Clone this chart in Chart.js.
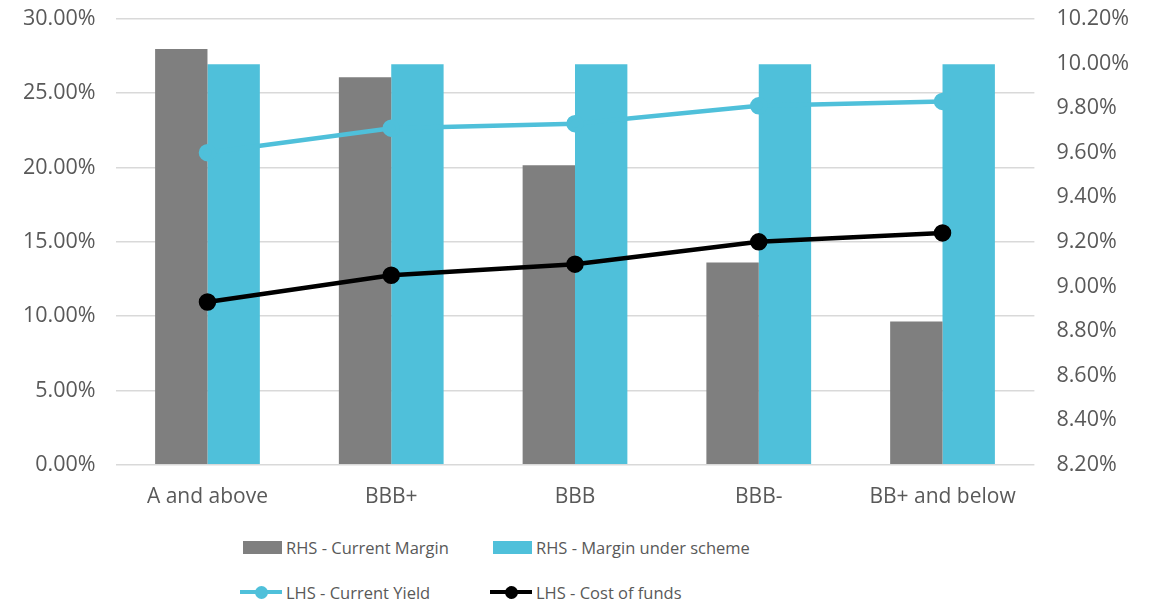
<!DOCTYPE html>
<html>
<head>
<meta charset="utf-8">
<script src="https://cdn.jsdelivr.net/npm/chart.js@4.4.1/dist/chart.umd.min.js"></script>
<style>
  body { margin: 0; background: #fff; font-family: "Open Sans", sans-serif; overflow: hidden; }
  #wrap { position: relative; width: 1151px; height: 601px; overflow: hidden; }
  #box { position: absolute; left: 0; top: -16px; width: 1151px; height: 538px; }
  #legend { position: absolute; left: 240px; top: 534px; display: grid;
    grid-template-columns: 250px 300px; row-gap: 19px; }
  .item { display: flex; align-items: center; height: 26px; color: #595959; font-size: 16.5px; white-space: nowrap; }
  .sw { width: 39px; height: 13px; margin: 0 4px 0 3px; }
  .ln { position: relative; width: 42px; height: 13px; margin-right: 4px; }
  .ln i { position: absolute; left: 0; right: 0; top: 4.5px; height: 4px; }
  .ln b { position: absolute; left: 15px; top: 0; width: 13px; height: 13px; border-radius: 50%; }
</style>
</head>
<body>
<div id="wrap">
  <div id="box"><canvas id="chart"></canvas></div>
  <div id="legend"></div>
</div>
<script>
const categories = ['A and above', 'BBB+', 'BBB', 'BBB-', 'BB+ and below']
const currentMargin = [27.97, 26.08, 20.15, 13.61, 9.64]
const marginUnderScheme = [26.95, 26.95, 26.95, 26.95, 26.95]
const currentYield = [9.60, 9.71, 9.73, 9.81, 9.83]
const costOfFunds = [8.93, 9.05, 9.10, 9.20, 9.24]

const grey = '#7f7f7f'
const cyan = '#4fc0da'
const textColor = '#595959'

const chart = new Chart(document.getElementById('chart').getContext('2d'), {
  data: {
    labels: categories,
    datasets: [
      { type: 'line', label: 'LHS - Current Yield', data: currentYield, yAxisID: 'y2',
        borderColor: cyan, backgroundColor: cyan, borderWidth: 4.5, pointRadius: 6.5,
        pointHoverRadius: 6.5, order: 0 },
      { type: 'line', label: 'LHS - Cost of funds', data: costOfFunds, yAxisID: 'y2',
        borderColor: '#000', backgroundColor: '#000', borderWidth: 4.5, pointRadius: 6.5,
        pointHoverRadius: 6.5, order: 0 },
      { type: 'bar', label: 'RHS - Current Margin', data: currentMargin, yAxisID: 'y',
        backgroundColor: grey, categoryPercentage: 0.57, barPercentage: 1, order: 1 },
      { type: 'bar', label: 'RHS - Margin under scheme', data: marginUnderScheme, yAxisID: 'y',
        backgroundColor: cyan, categoryPercentage: 0.57, barPercentage: 1, order: 1 }
    ]
  },
  options: {
    responsive: true,
    maintainAspectRatio: false,
    animation: false,
    layout: { padding: { top: 0, left: 3, right: 0, bottom: 0 } },
    plugins: { legend: { display: false }, tooltip: { enabled: false } },
    scales: {
      x: {
        grid: { display: false },
        border: { display: false },
        ticks: { color: textColor, font: { family: 'Open Sans', size: 21 }, padding: 12 }
      },
      y: {
        position: 'left', min: 0, max: 30,
        grid: { color: '#d9d9d9', lineWidth: 1.5, drawTicks: false },
        border: { display: false },
        ticks: { stepSize: 5, color: textColor, font: { family: 'Open Sans', size: 21.5 }, padding: 20,
          callback: v => v.toFixed(2) + '%' }
      },
      y2: {
        position: 'right', min: 8.2, max: 10.2,
        grid: { display: false, drawTicks: false },
        border: { display: false },
        ticks: { stepSize: 0.2, color: textColor, font: { family: 'Open Sans', size: 21.5 }, padding: 22,
          callback: v => v.toFixed(2) + '%' }
      }
    }
  }
})

// legend in two aligned columns, like the original
const legendOrder = [2, 3, 0, 1]
const legend = document.getElementById('legend')
legendOrder.forEach(i => {
  const ds = chart.data.datasets[i]
  const el = document.createElement('div')
  el.className = 'item'
  if (ds.type === 'bar') {
    el.innerHTML = '<span class="sw" style="background:' + ds.backgroundColor + '"></span>'
  } else {
    el.innerHTML = '<span class="ln"><i style="background:' + ds.borderColor + '"></i><b style="background:' + ds.borderColor + '"></b></span>'
  }
  el.appendChild(document.createTextNode(ds.label))
  legend.appendChild(el)
})
</script>
</body>
</html>
